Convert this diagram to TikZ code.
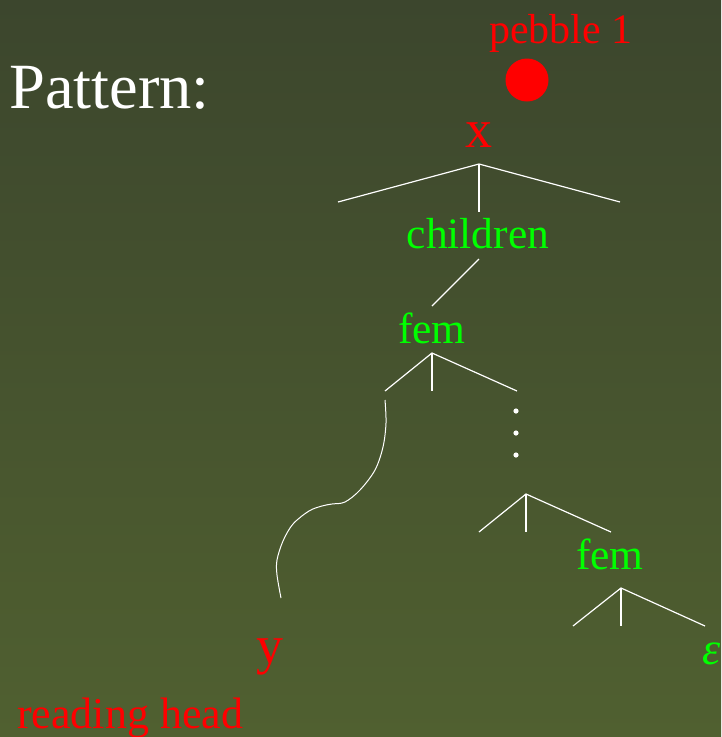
\documentclass[tikz,border=0pt]{standalone}
\usepackage{fontspec}
\setmainfont{Liberation Serif}
\definecolor{bgtop}{RGB}{60,70,45}
\definecolor{bgbot}{RGB}{80,96,48}
\definecolor{markred}{RGB}{255,0,0}
\definecolor{labgreen}{RGB}{0,255,0}
\begin{document}
\begin{tikzpicture}[x=1pt,y=-1pt,
  lbl/.style={anchor=base,inner sep=0pt},
  title/.style={lbl,text=white,font=\fontsize{64.5}{70}\selectfont},
  varname/.style={lbl,text=markred,font=\fontsize{54}{60}\selectfont},
  redtext/.style={lbl,text=markred,font=\fontsize{42}{48}\selectfont},
  tag/.style={lbl,text=labgreen,font=\fontsize{43.5}{48}\selectfont},
  edge/.style={draw=white,line width=1.2pt},
  dotmark/.style={fill=white,draw=none}]
% background
\shade[top color=bgtop,bottom color=bgbot] (0,0) rectangle (721,737);
\useasboundingbox (0,0) rectangle (721,737);

% labels
\node[title,anchor=base west] (title) at (9,108) {Pattern:};
\node[redtext] (pebble) at (561,43) {pebble 1};
\fill[markred] (527,80) circle (21.5);
\node[varname] (x) at (479,147) {x};
\node[tag] (children) at (478,248) {children};
\node[tag] (fem1) at (432,343) {fem};
\node[tag] (fem2) at (610,569) {fem};
\node[varname] (y) at (270,663) {y};
\node[redtext,anchor=base west,font=\fontsize{44}{48}\selectfont] (head) at (17,728) {reading head};
\node[tag,anchor=base west,font=\fontsize{46}{50}\selectfont\itshape] (eps) at (702,664) {ε};

% branching under x
\coordinate (xa) at (479,164);
\coordinate (xl) at (338,202);
\coordinate (xm) at (479,212);
\coordinate (xr) at (620,202);
\draw[edge] (xl) -- (xa) -- (xr);
\draw[edge] (xa) -- (xm);

% children to fem
\coordinate (ca) at (479,259);
\coordinate (cb) at (432,306);
\draw[edge] (ca) -- (cb);

% branching under the first fem
\coordinate (fa) at (432,353);
\coordinate (fl) at (385,391);
\coordinate (fm) at (432,391);
\coordinate (fr) at (517,391);
\draw[edge] (fl) -- (fa) -- (fr);
\draw[edge] (fa) -- (fm);

% path down to y
\draw[edge,line width=1pt] plot[smooth,tension=0.55] coordinates
  {(385,400) (386,423) (383,447) (375,470) (360,490) (345,502) (332,504)
   (322,506) (309,511) (293,524) (283,541) (277,560) (277,575) (281,598)};

% vertical ellipsis
\fill[dotmark] (516,411) circle (2.6);
\fill[dotmark] (516,433) circle (2.6);
\fill[dotmark] (516,455) circle (2.6);

% lower branching
\coordinate (ga) at (526,494);
\coordinate (gl) at (479,532);
\coordinate (gm) at (526,532);
\coordinate (gr) at (611,532);
\draw[edge] (gl) -- (ga) -- (gr);
\draw[edge] (ga) -- (gm);

% branching under the second fem
\coordinate (ha) at (621,588);
\coordinate (hl) at (573,626);
\coordinate (hm) at (621,626);
\coordinate (hr) at (705,626);
\draw[edge] (hl) -- (ha) -- (hr);
\draw[edge] (ha) -- (hm);
\end{tikzpicture}
\end{document}
